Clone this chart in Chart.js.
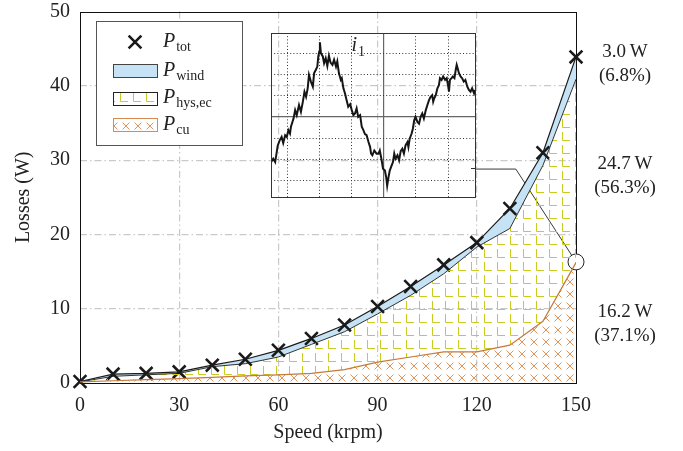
<!DOCTYPE html>
<html>
<head>
<meta charset="utf-8">
<script src="https://cdn.jsdelivr.net/npm/chart.js@4"></script>
<style>
    html, body { margin: 0; padding: 0; background: #fff; }
    #wrap { position: relative; width: 683px; height: 451px; }
    #main { position: absolute; left: 0; top: 0; }
    #inset { position: absolute; left: 271px; top: 33px; }
</style>
</head>
<body>
<div id="wrap">
    <canvas id="main" width="683" height="451"></canvas>
    <canvas id="inset" width="205" height="165"></canvas>
</div>
<script>
// loss breakdown vs speed
const speedKrpm = [0, 10, 20, 30, 40, 50, 60, 70, 80, 90, 100, 110, 120, 130, 140, 150];
const pTot   = [0.2, 1.2, 1.3, 1.5, 2.4, 3.2, 4.4, 6.0, 7.8, 10.3, 13.0, 15.9, 18.9, 23.5, 31.0, 43.9];
const pCuHys = [0.15, 0.9, 1.1, 1.3, 2.2, 2.6, 3.5, 5.2, 6.9, 9.3, 11.8, 14.7, 18.3, 20.8, 29.3, 40.9];
const pCu    = [0.15, 0.3, 0.45, 0.6, 0.75, 0.95, 1.1, 1.3, 1.8, 2.8, 3.5, 4.2, 4.2, 5.1, 8.3, 16.2];

const xTickValues = [0, 30, 60, 90, 120, 150];
const yTickValues = [0, 10, 20, 30, 40, 50];

const legendBase = 'P';
const legendSubs = ['tot', 'wind', 'hys,ec', 'cu'];

// split of the 150 krpm losses, top to bottom
const shareValues = ['3.0\u2009W', '24.7\u2009W', '16.2\u2009W'];
const sharePercents = ['(6.8%)', '(56.3%)', '(37.1%)'];
const shareAnchorY = [42.9, 27.9, 7.9];

// zoom marker: from inset edge to the circle at 150 krpm
const zoomLinkX = [119.7, 131.8, 150];
const zoomLinkY = [28.8, 28.8, 16.3];

// inset: phase current i1 (grid units)
const i1Time = [
    -3.50, -3.43, -3.37, -3.29, -3.23, -3.17, -3.12, -3.06, -3.01, -2.96, -2.91, -2.88, -2.80, -2.75, -2.70,
    -2.63, -2.57, -2.51, -2.46, -2.41, -2.36, -2.32, -2.26, -2.20, -2.16, -2.11, -2.06, -2.03, -2.00, -1.98,
    -1.95, -1.89, -1.85, -1.80, -1.75, -1.70, -1.65, -1.59, -1.54, -1.48, -1.44, -1.39, -1.33, -1.30, -1.25,
    -1.20, -1.15, -1.10, -1.04, -0.99, -0.94, -0.89, -0.84, -0.79, -0.73, -0.68, -0.63, -0.58, -0.53, -0.47,
    -0.42, -0.39, -0.35, -0.29, -0.22, -0.16, -0.12, -0.06, -0.02, 0.04, 0.08, 0.11, 0.15, 0.19, 0.25,
    0.29, 0.33, 0.37, 0.43, 0.48, 0.53, 0.58, 0.63, 0.68, 0.74, 0.77, 0.81, 0.87, 0.91, 0.95,
    0.99, 1.05, 1.10, 1.15, 1.20, 1.25, 1.31, 1.36, 1.41, 1.46, 1.51, 1.54, 1.57, 1.62, 1.67,
    1.72, 1.75, 1.80, 1.85, 1.91, 1.96, 2.00, 2.03, 2.06, 2.11, 2.15, 2.20, 2.24, 2.27, 2.30,
    2.34, 2.39, 2.44, 2.49, 2.54, 2.60, 2.65, 2.70, 2.75, 2.81, 2.84
];
const i1Value = [
    -2.14, -1.98, -2.14, -1.35, -1.11, -0.95, -1.24, -0.87, -0.95, -0.63, -0.79, -0.47, -0.08, 0.32, 0.08,
    0.56, 0.24, 0.72, 1.19, 0.95, 1.35, 1.99, 1.67, 1.43, 2.07, 2.22, 2.38, 2.86, 3.10, 3.53,
    3.02, 2.86, 2.54, 2.78, 2.41, 2.89, 2.57, 2.46, 2.70, 2.38, 2.62, 2.07, 1.75, 1.83, 1.35,
    1.11, 0.79, 0.48, 0.60, 0.32, 0.08, 0.16, 0.40, 0.00, 0.08, -0.47, -0.63, -0.82, -0.87, -1.19,
    -1.43, -1.74, -1.82, -1.59, -1.74, -1.74, -1.59, -2.06, -2.46, -2.54, -2.86, -3.26, -2.86, -2.54, -2.30,
    -2.14, -1.74, -1.98, -1.82, -2.06, -1.62, -1.51, -1.74, -1.35, -1.19, -1.43, -1.03, -0.79, -0.55, -0.16,
    0.00, -0.24, -0.32, 0.00, 0.16, -0.08, 0.32, 0.56, 0.79, 0.95, 1.03, 0.72, 0.87, 1.03, 1.35,
    1.51, 1.83, 1.75, 1.91, 1.75, 1.83, 1.51, 1.19, 1.75, 1.83, 1.91, 1.83, 2.22, 2.46, 2.30,
    2.07, 1.91, 1.83, 1.67, 1.75, 1.43, 1.27, 1.19, 1.35, 1.11, 1.27
];
const insetLabelAt = { x: -1.0, y: 3.1 };

const SERIF = '"Liberation Serif", "Times New Roman", serif';
const TEXT = '#222';
const BLUE = '#c6e3f6';
const COPPER = '#c47a3c';

function makePattern(size, draw) {
    const tile = document.createElement('canvas');
    tile.width = size;
    tile.height = size;
    const g = tile.getContext('2d');
    draw(g);
    return g.createPattern(tile, 'repeat');
}

// yellow "L" hatch for hysteresis + eddy current
const hatchL = makePattern(13, g => {
    g.strokeStyle = '#cbcb1f';
    g.lineWidth = 1;
    g.beginPath();
    g.moveTo(3.5, 2);
    g.lineTo(3.5, 10.5);
    g.lineTo(11, 10.5);
    g.stroke();
});

// orange crosses for copper losses
const hatchX = makePattern(12, g => {
    g.strokeStyle = '#e0925c';
    g.lineWidth = 1;
    g.beginPath();
    g.moveTo(2.5, 2.5);
    g.lineTo(9.5, 9.5);
    g.moveTo(9.5, 2.5);
    g.lineTo(2.5, 9.5);
    g.stroke();
});

const toPoints = ys => speedKrpm.map((x, i) => ({ x, y: ys[i] }));

function drawSubText(ctx, x, y, base, sub, size) {
    ctx.font = `italic ${size}px ${SERIF}`;
    ctx.fillText(base, x, y);
    const w = ctx.measureText(base).width;
    ctx.font = `${Math.round(size * 0.7)}px ${SERIF}`;
    ctx.fillText(sub, x + w + 1, y + size * 0.22);
}

const framePlugin = {
    id: 'frame',
    beforeDatasetsDraw(chart) {
        const { ctx, chartArea: a } = chart;
        ctx.save();
        ctx.strokeStyle = '#111';
        ctx.lineWidth = 1;
        ctx.strokeRect(Math.round(a.left) + 0.5, Math.round(a.top) + 0.5,
            Math.round(a.right - a.left), Math.round(a.bottom - a.top));
        ctx.restore();
    },
};

const legendPlugin = {
    id: 'paperLegend',
    afterDraw(chart) {
        const { ctx } = chart;
        const box = { x: 96.5, y: 21.5, w: 146, h: 124 };
        const rowY = [42, 70.5, 98, 124.5];
        ctx.save();
        ctx.fillStyle = '#fff';
        ctx.strokeStyle = '#555';
        ctx.lineWidth = 1;
        ctx.fillRect(box.x, box.y, box.w, box.h);
        ctx.strokeRect(box.x, box.y, box.w, box.h);

        // symbols
        ctx.strokeStyle = '#1a1a1a';
        ctx.lineWidth = 2.6;
        Chart.helpers.drawPoint(ctx, { pointStyle: 'crossRot', radius: 9, borderWidth: 2.6 }, 135, rowY[0]);

        const swatches = [
            { fill: BLUE, stroke: '#444' },
            { fill: hatchL, stroke: '#222' },
            { fill: hatchX, stroke: '#d98a52' },
        ];
        swatches.forEach((s, i) => {
            const y = Math.round(rowY[i + 1] - 6.5) + 0.5;
            ctx.fillStyle = '#fff';
            ctx.fillRect(113.5, y, 44, 13);
            ctx.fillStyle = s.fill;
            ctx.fillRect(113.5, y, 44, 13);
            ctx.strokeStyle = s.stroke;
            ctx.lineWidth = 1;
            ctx.strokeRect(113.5, y, 44, 13);
        });

        ctx.fillStyle = TEXT;
        ctx.textAlign = 'left';
        ctx.textBaseline = 'alphabetic';
        legendSubs.forEach((sub, i) => {
            drawSubText(ctx, 163, rowY[i] + 5, legendBase, sub, 20);
        });
        ctx.restore();
    },
};

const sharePlugin = {
    id: 'shares',
    afterDraw(chart) {
        const { ctx, scales } = chart;
        const x = chart.chartArea.right + 49;
        ctx.save();
        ctx.fillStyle = TEXT;
        ctx.font = `19px ${SERIF}`;
        ctx.textAlign = 'center';
        ctx.textBaseline = 'middle';
        shareAnchorY.forEach((v, i) => {
            const y = scales.y.getPixelForValue(v);
            ctx.fillText(shareValues[i], x, y - 12);
            ctx.fillText(sharePercents[i], x, y + 12);
        });
        ctx.restore();
    },
};

const gridDash = [7, 3, 1.5, 3];

new Chart(document.getElementById('main').getContext('2d'), {
    type: 'line',
    data: {
        datasets: [
            {
                label: 'Pcu',
                data: toPoints(pCu),
                borderColor: COPPER,
                borderWidth: 1.2,
                backgroundColor: hatchX,
                fill: 'origin',
                pointRadius: 0,
            },
            {
                label: 'Phys,ec',
                data: toPoints(pCuHys),
                borderColor: '#1e1e1e',
                borderWidth: 0.9,
                backgroundColor: hatchL,
                fill: '-1',
                pointRadius: 0,
            },
            {
                label: 'Ptot',
                data: toPoints(pTot),
                borderColor: '#1a1a1a',
                borderWidth: 1.2,
                backgroundColor: BLUE,
                fill: '-1',
                clip: false,
                pointStyle: 'crossRot',
                pointRadius: 9,
                pointBorderWidth: 2.6,
                pointBorderColor: '#1a1a1a',
            },
            {
                label: 'zoom',
                data: zoomLinkX.map((x, i) => ({ x, y: zoomLinkY[i] })),
                borderColor: '#222',
                borderWidth: 0.9,
                fill: false,
                clip: false,
                pointRadius: [0, 0, 8],
                pointBorderWidth: 1,
                pointBorderColor: '#222',
                pointBackgroundColor: '#fff',
            },
        ],
    },
    options: {
        responsive: false,
        animation: false,
        events: [],
        layout: { padding: { left: 0, right: 107, top: 10, bottom: 0 } },
        plugins: {
            legend: { display: false },
            tooltip: { enabled: false },
        },
        scales: {
            x: {
                type: 'linear',
                min: 0,
                max: 150,
                afterBuildTicks: s => { s.ticks = xTickValues.map(value => ({ value })); },
                afterFit: s => { s.height = 68; s.paddingLeft = 0; s.paddingRight = 0; },
                ticks: { color: TEXT, font: { family: SERIF, size: 20 }, padding: 11, maxRotation: 0 },
                grid: {
                    drawTicks: false,
                    color: c => (c.tick && (c.tick.value === 0 || c.tick.value === 150) ? 'rgba(0,0,0,0)' : '#c9c9c9'),
                    lineWidth: 1.2,
                },
                border: { display: false, dash: gridDash },
                title: {
                    display: true,
                    text: 'Speed (krpm)',
                    color: TEXT,
                    font: { family: SERIF, size: 20 },
                    padding: { top: 0, bottom: 6 },
                },
            },
            y: {
                min: 0,
                max: 50,
                afterBuildTicks: s => { s.ticks = yTickValues.map(value => ({ value })); },
                afterFit: s => { s.width = 80; s.paddingTop = 0; s.paddingBottom = 0; },
                ticks: { color: TEXT, font: { family: SERIF, size: 20 }, padding: 10 },
                grid: {
                    drawTicks: false,
                    color: c => (c.tick && (c.tick.value === 0 || c.tick.value === 50) ? 'rgba(0,0,0,0)' : '#c9c9c9'),
                    lineWidth: 1.2,
                },
                border: { display: false, dash: gridDash },
                title: {
                    display: true,
                    text: 'Losses (W)',
                    color: TEXT,
                    font: { family: SERIF, size: 20 },
                    padding: { top: 12, bottom: 0 },
                },
            },
        },
    },
    plugins: [framePlugin, legendPlugin, sharePlugin],
});

// inset with the phase current
const insetFrame = {
    id: 'insetFrame',
    afterDraw(chart) {
        const { ctx, chartArea: a, scales } = chart;
        ctx.save();
        ctx.strokeStyle = '#333';
        ctx.lineWidth = 1;
        ctx.strokeRect(a.left + 0.5, a.top + 0.5, a.right - a.left - 1, a.bottom - a.top - 1);
        // short tick where the zoom link leaves the box
        const ty = Math.round(scales.y.getPixelForValue(-2.44)) + 0.5;
        ctx.beginPath();
        ctx.moveTo(a.right - 5, ty);
        ctx.lineTo(a.right, ty);
        ctx.stroke();
        ctx.fillStyle = TEXT;
        ctx.textBaseline = 'alphabetic';
        ctx.textAlign = 'left';
        drawSubText(ctx, scales.x.getPixelForValue(insetLabelAt.x), scales.y.getPixelForValue(insetLabelAt.y),
            'i', '1', 20);
        ctx.restore();
    },
};

const insetGrid = (axisAt0) => ({
    display: true,
    ticks: { display: false, stepSize: 1, includeBounds: false },
    grid: {
        drawTicks: false,
        color: c => (c.tick && c.tick.value === 0 ? '#666' : '#333'),
        lineWidth: c => (c.tick && c.tick.value === 0 ? 1.2 : 1),
    },
    border: { display: false, dash: c => (c.tick && c.tick.value === 0 ? [] : [1, 2.2]) },
    afterFit: s => {
        if (axisAt0) s.height = 0; else s.width = 0;
        s.paddingLeft = 0; s.paddingRight = 0; s.paddingTop = 0; s.paddingBottom = 0;
    },
});

new Chart(document.getElementById('inset').getContext('2d'), {
    type: 'line',
    data: {
        datasets: [{
            data: i1Time.map((x, i) => ({ x, y: i1Value[i] })),
            borderColor: '#151515',
            borderWidth: 2,
            pointRadius: 0,
            tension: 0,
        }],
    },
    options: {
        responsive: false,
        animation: false,
        events: [],
        layout: { padding: 0 },
        plugins: { legend: { display: false }, tooltip: { enabled: false } },
        scales: {
            x: Object.assign({ type: 'linear', min: -3.5, max: 2.87 }, insetGrid(true)),
            y: Object.assign({ type: 'linear', min: -3.84, max: 3.97 }, insetGrid(false)),
        },
    },
    plugins: [insetFrame],
});
</script>
</body>
</html>
